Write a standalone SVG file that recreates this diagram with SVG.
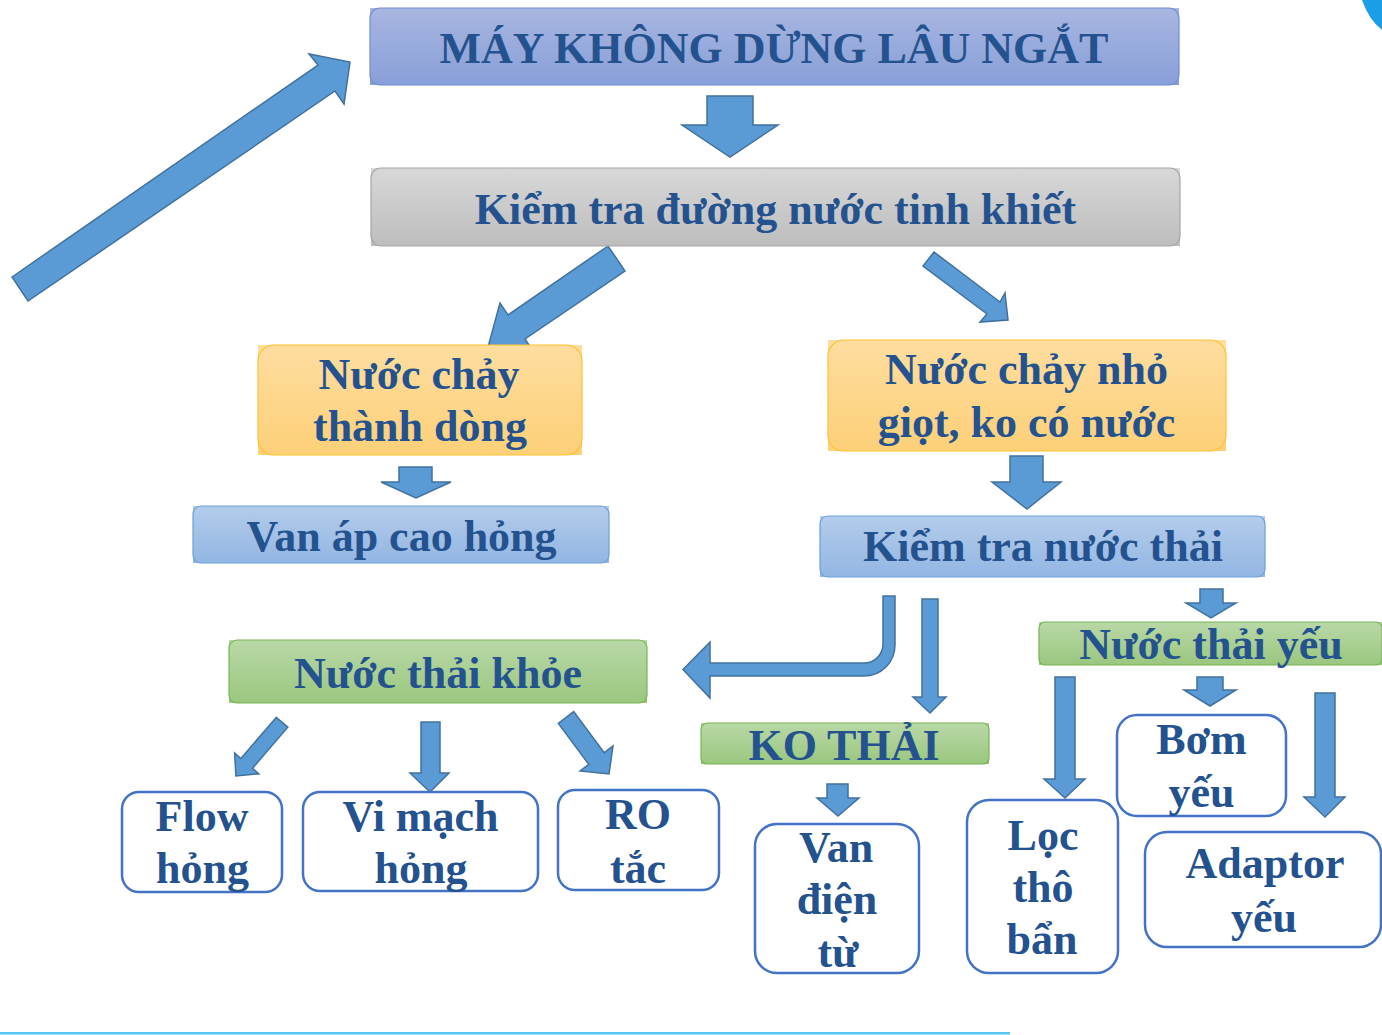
<svg xmlns="http://www.w3.org/2000/svg" width="1382" height="1035" viewBox="0 0 1382 1035">
<defs>
<linearGradient id="gTop" x1="0" y1="0" x2="0" y2="1"><stop offset="0" stop-color="#a8b6e1"/><stop offset="1" stop-color="#889fd8"/></linearGradient>
<linearGradient id="gGray" x1="0" y1="0" x2="0" y2="1"><stop offset="0" stop-color="#d8d8d8"/><stop offset="1" stop-color="#bdbdbd"/></linearGradient>
<linearGradient id="gOrange" x1="0" y1="0" x2="0" y2="1"><stop offset="0" stop-color="#fedd9f"/><stop offset="1" stop-color="#fdd078"/></linearGradient>
<linearGradient id="gBlue" x1="0" y1="0" x2="0" y2="1"><stop offset="0" stop-color="#b3cceb"/><stop offset="1" stop-color="#93b6e2"/></linearGradient>
<linearGradient id="gGreen" x1="0" y1="0" x2="0" y2="1"><stop offset="0" stop-color="#b9d8a7"/><stop offset="1" stop-color="#9ac77e"/></linearGradient>
</defs>
<style>
.arr{fill:#5b9bd5;stroke:#41719c;stroke-width:1.5;stroke-linejoin:miter}
.t{font-family:"Liberation Serif","Times New Roman",serif;font-weight:bold;font-size:44px;fill:#24528f;text-anchor:middle}
.wb{fill:#ffffff;stroke:#4472c4;stroke-width:2.5}
.top{fill:url(#gTop)}
.topS{fill:none;stroke:#6f8ed3;stroke-width:1.2}
.gray{fill:url(#gGray)}
.grayS{fill:none;stroke:#a6a6a6;stroke-width:1.2}
.or{fill:url(#gOrange)}
.orS{fill:none;stroke:#ffc12e;stroke-width:1.2}
.bl{fill:url(#gBlue)}
.blS{fill:none;stroke:#6d9fd9;stroke-width:1.2}
.gr{fill:url(#gGreen)}
.grS{fill:none;stroke:#79b452;stroke-width:1.2}
</style>
<rect width="1382" height="1035" fill="#ffffff"/>
<path d="M1362,0 Q1369,20 1382,30 L1382,0 Z" fill="#1a9fe6"/>
<rect x="0" y="1032" width="1010" height="2.5" fill="#55c5f3"/>

<g id="connectors">
<polygon class="arr" points="12,277 318,65 309,54 350,62 344,104 335,91 28,301"/>
<polygon class="arr" points="707,96 753,96 753,125 778,125 730,157 682,125 707,125"/>
<polygon class="arr" points="608,246 508,315 500,303 488,347 533,351 525,339 625,271"/>
<polygon class="arr" points="934,252 1000,302 1005,293 1008,320 980,322 987,314 923,266"/>
<polygon class="arr" points="399,467 432,467 432,482 451,482 416,498 381,482 399,482"/>
<polygon class="arr" points="1010,456 1043,456 1043,482 1061,482 1027,509 992,482 1010,482"/>
<path class="arr" d="M883,596 L895,596 L895,645 A31,31 0 0 1 864,676 L710,676 L710,698 L683,669.5 L710,642 L710,663 L864,663 A19,19 0 0 0 883,644 Z"/>
<polygon class="arr" points="922,599 938,599 938,697 946,697 930,713 913,697 922,697"/>
<polygon class="arr" points="1200,589 1223,589 1223,603 1236,603 1211,618 1186,603 1200,603"/>
<polygon class="arr" points="276.2,717.4 240.9,758.5 234.6,753 235.9,776 258.8,773.8 252.5,768.3 287.8,727.2"/>
<polygon class="arr" points="421,722 440,722 440,773 449,773 430,792 410,773 421,773"/>
<polygon class="arr" points="558.3,723.4 588.8,764.4 580,771 609,774 613,746 604.2,752.6 573.7,711.6"/>
<polygon class="arr" points="827,784 848,784 848,798 859,798 838,816 817,798 827,798"/>
<polygon class="arr" points="1055,677 1075,677 1075,779 1085,779 1065,798 1044,779 1055,779"/>
<polygon class="arr" points="1197,677 1223,677 1223,690 1236,690 1210,706 1184,690 1197,690"/>
<polygon class="arr" points="1315,693 1335,693 1335,797 1345,797 1325,817 1304,797 1315,797"/>
</g>

<g id="node-may-khong-dung">
<rect class="top" x="370" y="8" width="809" height="77"/>
<rect class="topS" x="370" y="8" width="809" height="77" rx="10"/>
<text class="t" x="774" y="63">MÁY KHÔNG DỪNG LÂU NGẮT</text>
</g>
<g id="node-kiem-tra-tinh-khiet">
<rect class="gray" x="371" y="168" width="809" height="78"/>
<rect class="grayS" x="371" y="168" width="809" height="78" rx="10"/>
<text class="t" x="775.5" y="224">Kiểm tra đường nước tinh khiết</text>
</g>
<g id="node-nuoc-chay-thanh-dong">
<rect class="or" x="258" y="345" width="324" height="110"/>
<rect class="orS" x="258" y="345" width="324" height="110" rx="16"/>
<text class="t" x="419" y="389">Nước chảy</text>
<text class="t" x="420" y="441">thành dòng</text>
</g>
<g id="node-nuoc-chay-nho-giot">
<rect class="or" x="828" y="340" width="398" height="111"/>
<rect class="orS" x="828" y="340" width="398" height="111" rx="16"/>
<text class="t" x="1026.5" y="384">Nước chảy nhỏ</text>
<text class="t" x="1026.5" y="437">giọt, ko có nước</text>
</g>
<g id="node-van-ap-cao">
<rect class="bl" x="193" y="506" width="416" height="57"/>
<rect class="blS" x="193" y="506" width="416" height="57" rx="8"/>
<text class="t" x="401.5" y="551">Van áp cao hỏng</text>
</g>
<g id="node-kiem-tra-nuoc-thai">
<rect class="bl" x="820" y="516" width="445" height="61"/>
<rect class="blS" x="820" y="516" width="445" height="61" rx="8"/>
<text class="t" x="1043" y="561">Kiểm tra nước thải</text>
</g>
<g id="node-nuoc-thai-khoe">
<rect class="gr" x="229" y="640" width="418" height="63"/>
<rect class="grS" x="229" y="640" width="418" height="63" rx="8"/>
<text class="t" x="438" y="688">Nước thải khỏe</text>
</g>
<g id="node-ko-thai">
<rect class="gr" x="701" y="723" width="288" height="41"/>
<rect class="grS" x="701" y="723" width="288" height="41" rx="6"/>
<text class="t" x="844" y="760">KO THẢI</text>
</g>
<g id="node-nuoc-thai-yeu">
<rect class="gr" x="1039" y="622" width="343" height="43"/>
<rect class="grS" x="1039" y="622" width="343" height="43" rx="6"/>
<text class="t" x="1211" y="659">Nước thải yếu</text>
</g>
<g id="node-flow">
<rect class="wb" x="122" y="792" width="160" height="100" rx="17"/>
<text class="t" x="202" y="831">Flow</text>
<text class="t" x="202.5" y="883">hỏng</text>
</g>
<g id="node-vi-mach">
<rect class="wb" x="303" y="792" width="235" height="99" rx="17"/>
<text class="t" x="420.5" y="831">Vi mạch</text>
<text class="t" x="421" y="883">hỏng</text>
</g>
<g id="node-ro">
<rect class="wb" x="558" y="790" width="161" height="100" rx="17"/>
<text class="t" x="638" y="829">RO</text>
<text class="t" x="638" y="883">tắc</text>
</g>
<g id="node-van-dien-tu">
<rect class="wb" x="755" y="824" width="164" height="149" rx="22"/>
<text class="t" x="836" y="862">Van</text>
<text class="t" x="837" y="914">điện</text>
<text class="t" x="838" y="967">từ</text>
</g>
<g id="node-loc-tho">
<rect class="wb" x="967" y="800" width="151" height="173" rx="22"/>
<text class="t" x="1043" y="850">Lọc</text>
<text class="t" x="1043" y="902">thô</text>
<text class="t" x="1042" y="954">bẩn</text>
</g>
<g id="node-bom-yeu">
<rect class="wb" x="1117" y="715" width="169" height="101" rx="20"/>
<text class="t" x="1201.5" y="754">Bơm</text>
<text class="t" x="1201.5" y="807">yếu</text>
</g>
<g id="node-adaptor-yeu">
<rect class="wb" x="1145" y="832" width="236" height="115" rx="22"/>
<text class="t" x="1265" y="878">Adaptor</text>
<text class="t" x="1264" y="932">yếu</text>
</g>
</svg>
